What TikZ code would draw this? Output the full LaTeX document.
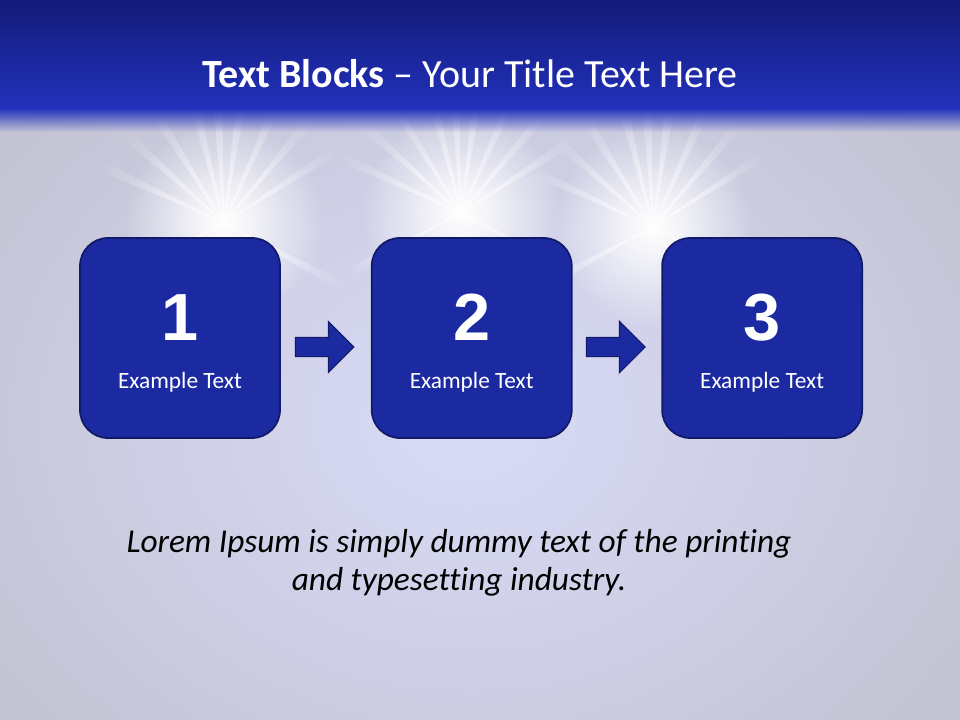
\documentclass[tikz,border=0pt]{standalone}
\usepackage{fontspec}
\setmainfont{Carlito}[Ligatures={TeX,NoCommon}]
\newfontfamily\digitfont{Liberation Sans}
\usetikzlibrary{positioning,shapes.arrows,fadings,calc}
\definecolor{navy}{HTML}{111A66}
\definecolor{blockfill}{HTML}{1C2AA2}
\definecolor{bartop}{HTML}{141B7A}
\definecolor{barbot}{HTML}{2131BA}
\definecolor{slatebg}{HTML}{C3C3D3}
\definecolor{glowbg}{HTML}{DADCF8}
\tikzfading[name=softglow,inner color=transparent!0,outer color=transparent!100]
\tikzfading[name=fadedown,top color=transparent!0,bottom color=transparent!100]
\tikzfading[name=rayfade,left color=transparent!0,right color=transparent!100]
\pgfdeclareradialshading{starshade}{\pgfpointorigin}
  {color(0bp)=(transparent!0); color(6bp)=(transparent!20); color(25bp)=(transparent!100);
   color(50bp)=(transparent!100)}
\pgfdeclarefading{starglow}{\pgfuseshading{starshade}}
\begin{document}
\begin{tikzpicture}[x=0.75pt,y=-0.75pt,
  blk/.style={draw=navy,line width=1.3pt,fill=blockfill,rounded corners=21pt,
              minimum width=150pt,minimum height=150pt,inner sep=0pt},
  num/.style={text=white,font=\digitfont\bfseries\fontsize{50}{50}\selectfont,anchor=base},
  lbl/.style={text=white,font=\fontsize{17.5}{20}\selectfont,anchor=base},
  blkarrow/.style={single arrow,draw=navy,line width=0.8pt,fill=blockfill,minimum height=44pt,
                   single arrow head extend=12pt,inner xsep=0pt,inner ysep=6.75pt}]
  \useasboundingbox (0,0) rectangle (960,720);
  \clip (0,0) rectangle (960,720);
  % backdrop
  \fill[slatebg] (0,0) rectangle (960,720);
  \fill[glowbg,path fading=softglow] (470,420) ellipse (600 and 480);
  \foreach \cx/\cy in {224/223,461/213,653/227}{
    \foreach \a in {-155,-138,-122,-104,-93,-82,-66,-50,-33,28,152}
      {\fill[white,opacity=0.6,path fading=rayfade,fading angle=-\a]
         (\cx,\cy) -- +(\a-2.2:150) -- +(\a+2.2:150) -- cycle;}
    \fill[white,path fading=starglow] (\cx,\cy) circle (100);}
  % title bar
  \shade[top color=bartop,bottom color=barbot] (0,0) rectangle (960,108);
  \fill[barbot,path fading=fadedown] (0,108) rectangle (960,132);
  \node[text=white,font=\fontsize{30}{36}\selectfont,anchor=base] (title) at (470,88)
    {\textbf{Text Blocks} – Your Title Text Here};
  % the three blocks
  \node[blk] (b1) at (180,338) {};
  \node[blk,right=67.5pt of b1] (b2) {};
  \node[blk,right=66.5pt of b2] (b3) {};
  \foreach \i in {1,2,3}{
    \node[num] (n\i) at ([yshift=-1.5pt]b\i.center) {\i};
    \node[lbl] (t\i) at ([yshift=-37.5pt]b\i.center) {Example Text};}
  \foreach \a/\b in {b1/b2,b2/b3}
    {\node[blkarrow] (arr\a) at ($(\a.east)!0.5!(\b.west)+(-6,9)$) {};}
  \node[font=\itshape\fontsize{25}{28.5}\selectfont,align=center] (lorem) at (459,563)
    {Lorem Ipsum is simply dummy text of the printing\\and typesetting industry.};
\end{tikzpicture}
\end{document}
